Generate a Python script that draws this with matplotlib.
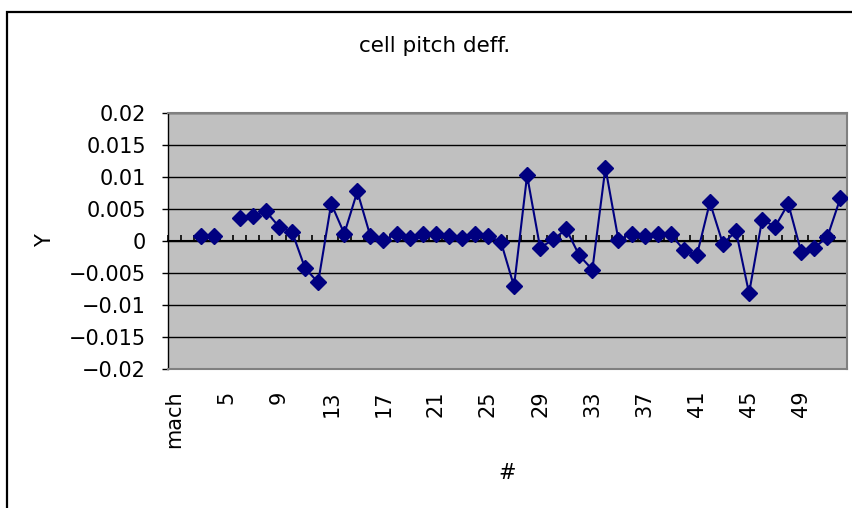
import matplotlib
matplotlib.use("Agg")
import matplotlib.pyplot as plt
import numpy as np
from matplotlib.patches import Rectangle

plt.rcParams["font.family"] = ["DejaVu Sans"]

# Data: 52 categories, first labeled "mach"; categories 1, 2 and 5 are empty
categories = ["mach"] + [str(i) for i in range(2, 53)]
values = [
    np.nan, np.nan, 0.0008, 0.0008, np.nan, 0.0037, 0.0040, 0.0047, 0.0023, 0.0015,
    -0.0042, -0.0064, 0.0059, 0.0012, 0.0078, 0.0008, 0.0002, 0.0011, 0.0005, 0.0012,
    0.0012, 0.0009, 0.0006, 0.0012, 0.0009, -0.0001, -0.0070, 0.0103, -0.0010, 0.0003,
    0.0019, -0.0022, -0.0044, 0.0115, 0.0002, 0.0012, 0.0008, 0.0012, 0.0011, -0.0013,
    -0.0022, 0.0061, -0.0004, 0.0016, -0.0081, 0.0034, 0.0023, 0.0059, -0.0017, -0.0010,
    0.0007, 0.0068,
]
y_ticks = [-0.02, -0.015, -0.01, -0.005, 0, 0.005, 0.01, 0.015, 0.02]
y_ticklabels = ["\u22120.02", "\u22120.015", "\u22120.01", "\u22120.005", "0",
                "0.005", "0.01", "0.015", "0.02"]

x = np.arange(1, len(categories) + 1)

fig = plt.figure(figsize=(8.53, 5.08), dpi=100)
ax = fig.add_axes([0.19695, 0.27264, 0.796, 0.50433])

# chart area border (runs past the right and bottom edge like the screenshot)
fig.patches.append(Rectangle((7 / 853, -0.1), 1.2, 1.1 - 12 / 508,
                             transform=fig.transFigure, fill=False,
                             edgecolor="black", linewidth=1.6))

ax.set_facecolor("#C0C0C0")
ax.plot(x, values, color="#000080", linewidth=1.5, marker="D",
        markersize=7.8, markerfacecolor="#000080", markeredgecolor="#000080",
        zorder=3)

ax.set_xlim(0.5, len(categories) + 0.5)
ax.set_ylim(-0.02, 0.02)
ax.set_yticks(y_ticks)
ax.set_yticklabels(y_ticklabels, fontsize=15)
ax.yaxis.grid(True, color="black", linewidth=1)
ax.set_axisbelow(True)
ax.tick_params(axis="y", direction="out", length=4, width=1, pad=12)

shown = x[::4]
ax.set_xticks(shown)
ax.set_xticklabels([categories[i - 1] for i in shown], rotation=90, fontsize=15)
ax.tick_params(axis="x", length=0, pad=15)

for side in ["top", "right", "bottom"]:
    ax.spines[side].set_color("#808080")
    ax.spines[side].set_linewidth(1.5)
ax.spines["left"].set_color("black")
ax.spines["left"].set_linewidth(1)

# category axis crossing at y = 0 with tick marks between categories
sec = ax.secondary_xaxis(0.5)
sec.set_xticks(np.arange(0.5, len(categories) + 1, 1))
sec.tick_params(axis="x", direction="out", length=4.3, width=1.2,
                labeltop=False, labelbottom=False, color="black")
sec.spines["top"].set_color("black")
sec.spines["top"].set_linewidth(1.5)

# axis titles and chart title
fig.text(45 / 853, 1 - 241 / 508, "Y", rotation=90, ha="center", va="center",
         fontsize=15)
fig.text(507 / 853, 1 - 473 / 508, "#", ha="center", va="center", fontsize=15)
fig.text(435 / 853, 1 - 46 / 508, "cell pitch deff.", ha="center",
         va="center", fontsize=15.5)

fig.savefig("out.png", dpi=100)
